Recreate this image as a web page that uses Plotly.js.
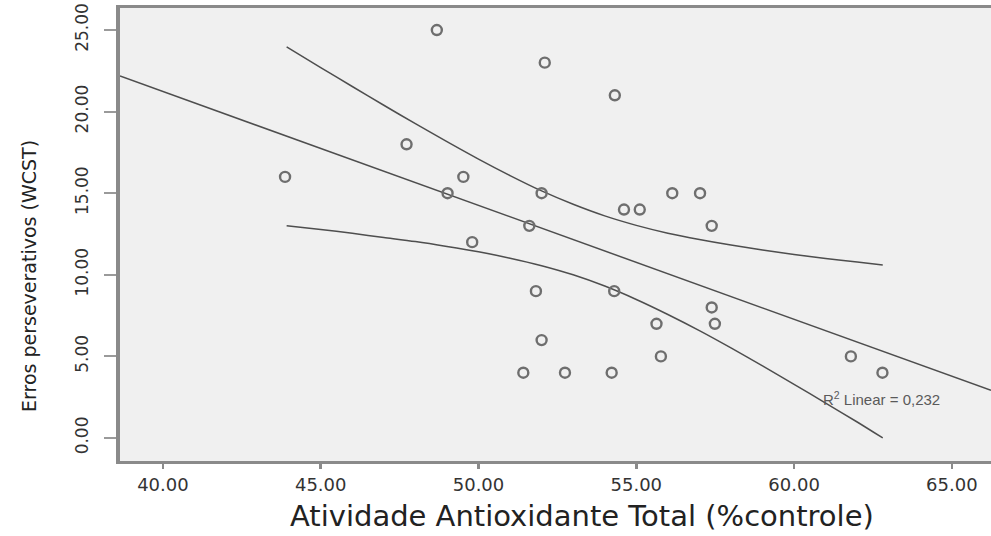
<!DOCTYPE html>
<html>
<head>
<meta charset="utf-8">
<script src="https://cdn.plot.ly/plotly-3.0.1.min.js"></script>
<style>
  html, body { margin: 0; padding: 0; background: #ffffff; }
  #chart { width: 991px; height: 536px; }
</style>
</head>
<body>
<div id="chart"></div>
<script>
// Observed data points (Atividade Antioxidante Total vs Erros perseverativos)
const antioxidante = [48.68, 52.10, 54.32, 47.72, 49.52, 43.87, 49.02, 52.00, 56.14, 57.02,
                      54.61, 55.11, 57.39, 51.61, 49.80, 51.82, 54.30, 57.39, 57.49, 55.64,
                      52.00, 55.78, 61.80, 62.80, 51.42, 52.74, 54.22];
const erros =        [25, 23, 21, 18, 16, 16, 15, 15, 15, 15,
                      14, 14, 13, 13, 12, 9, 9, 8, 7, 7,
                      6, 5, 5, 4, 4, 4, 4];

// Linear fit line
const fitX = [38.64, 66.24];
const fitY = [22.18, 2.92];

// 95% confidence band of the mean, x positions where the band was read
const bandX = [43.92, 45, 46, 47, 48, 49, 50, 51, 52, 53, 54, 55, 56, 57, 58, 59, 60, 61, 62, 62.81];
// upper band
const upperY = [23.97, 22.70, 21.54, 20.39, 19.26, 18.16, 17.09, 16.08, 15.14, 14.32,
                13.61, 13.03, 12.55, 12.16, 11.82, 11.52, 11.25, 11.00, 10.78, 10.60];
// lower band
const lowerY = [13.01, 12.78, 12.54, 12.29, 12.04, 11.74, 11.41, 11.02, 10.56, 10.00,
                9.31, 8.49, 7.57, 6.58, 5.52, 4.42, 3.29, 2.14, 0.98, 0.00];

const xTicks = [40, 45, 50, 55, 60, 65];
const xTickLabels = ["40.00", "45.00", "50.00", "55.00", "60.00", "65.00"];
const yTicks = [0, 5, 10, 15, 20, 25];
const yTickLabels = ["0.00", "5.00", "10.00", "15.00", "20.00", "25.00"];

const xTitle = "Atividade Antioxidante Total (%controle)";
const yTitle = "Erros perseverativos (WCST)";
const r2Label = "R<sup>2</sup> Linear = 0,232";

const lineColor = "#4e4e4e";

const traces = [
  {
    x: bandX, y: upperY, type: "scatter", mode: "lines",
    line: { color: lineColor, width: 1.5, shape: "spline", smoothing: 0.8 },
    hoverinfo: "skip", showlegend: false
  },
  {
    x: bandX, y: lowerY, type: "scatter", mode: "lines",
    line: { color: lineColor, width: 1.5, shape: "spline", smoothing: 0.8 },
    hoverinfo: "skip", showlegend: false
  },
  {
    x: fitX, y: fitY, type: "scatter", mode: "lines",
    line: { color: lineColor, width: 1.5 },
    hoverinfo: "skip", showlegend: false
  },
  {
    x: antioxidante, y: erros, type: "scatter", mode: "markers",
    marker: { symbol: "circle-open", size: 10, color: "#6e6e6e", line: { width: 2.4, color: "#6e6e6e" } },
    showlegend: false
  }
];

const layout = {
  width: 991, height: 536,
  margin: { l: 120, r: 0, t: 8, b: 75 },
  paper_bgcolor: "#ffffff",
  plot_bgcolor: "#f0f0f0",
  showlegend: false,
  xaxis: {
    range: [38.64, 66.24],
    tickvals: xTicks, ticktext: xTickLabels,
    showgrid: false, zeroline: false,
    showline: true, linecolor: "#8a8a8a", linewidth: 3, mirror: true,
    ticks: "outside", ticklen: 5, tickwidth: 2.5, tickcolor: "#8a8a8a",
    tickfont: { family: "DejaVu Sans", size: 18, color: "#333333" }
  },
  yaxis: {
    range: [-1.41, 26.35],
    tickvals: yTicks, ticktext: yTickLabels,
    tickangle: -90,
    showgrid: false, zeroline: false,
    showline: true, linecolor: "#8a8a8a", linewidth: 4,
    ticks: "outside", ticklen: 12, tickwidth: 2, tickcolor: "#9a9a9a",
    ticklabelstandoff: 9,
    tickfont: { family: "DejaVu Sans", size: 17, color: "#333333" }
  },
  annotations: [
    {
      x: 62.78, y: 2.45, xref: "x", yref: "y",
      text: r2Label, showarrow: false, xanchor: "center", yanchor: "middle",
      font: { family: "Liberation Sans", size: 15, color: "#5a5a5a" }
    },
    {
      x: 0.5299, y: -0.1214, xref: "paper", yref: "paper",
      text: xTitle, showarrow: false, xanchor: "center", yanchor: "middle",
      font: { family: "DejaVu Sans", size: 29, color: "#222222" }
    },
    {
      x: -0.1045, y: 0.4084, xref: "paper", yref: "paper",
      text: yTitle, showarrow: false, textangle: -90, xanchor: "center", yanchor: "middle",
      font: { family: "DejaVu Sans", size: 19, color: "#222222" }
    }
  ]
};

Plotly.newPlot("chart", traces, layout, { displayModeBar: false, staticPlot: true });
</script>
</body>
</html>
